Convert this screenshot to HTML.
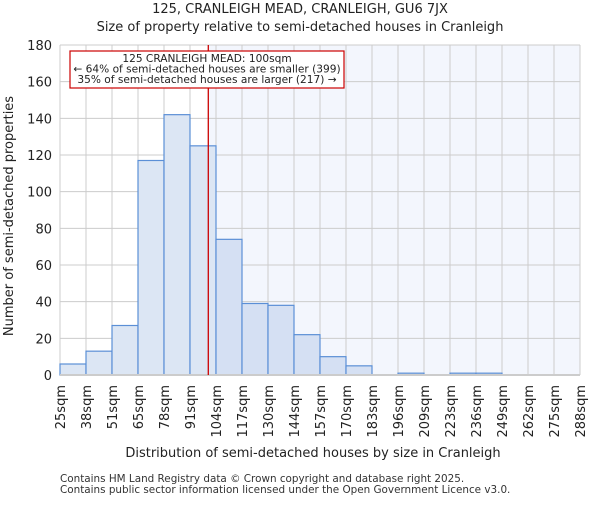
<!DOCTYPE html>
<html><head><meta charset="utf-8"><style>body{margin:0;background:#fff}text{font-family:"DejaVu Sans","Liberation Sans",sans-serif}</style></head>
<body>
<svg id="c" width="600" height="500" xmlns="http://www.w3.org/2000/svg"></svg>
<script>
const edgeLabels=["25sqm","38sqm","51sqm","65sqm","78sqm","91sqm","104sqm","117sqm","130sqm","144sqm","157sqm","170sqm","183sqm","196sqm","209sqm","223sqm","236sqm","249sqm","262sqm","275sqm","288sqm"];
const counts=[6,13,27,117,142,125,74,39,38,22,10,5,0,1,0,1,1,0,0,0];
const yTicks=[0,20,40,60,80,100,120,140,160,180];
const xMin=25,xMax=288,marker=100;
const L=60,R=580,T=45,B=375;
const svg=document.getElementById('c');const NS="http://www.w3.org/2000/svg";
function X(v){return L+(v-xMin)/(xMax-xMin)*(R-L);}
function Y(v){return B-v/180*(B-T);}
function bx(i){return L+i*(R-L)/counts.length;}
function add(t,a,txt){const e=document.createElementNS(NS,t);for(const k in a)e.setAttribute(k,a[k]);if(txt!==undefined)e.textContent=txt;svg.appendChild(e);return e;}
const mx=X(marker);
let e=add('rect',{x:mx,y:T,width:R-mx,height:B-T,fill:'#f3f6fd'});

yTicks.forEach(v=>{e=add('line',{x1:L,x2:R,y1:Y(v),y2:Y(v),stroke:'#cccccc'});

e=add('text',{x:L-8,y:Y(v)+5,'text-anchor':'end','font-size':13,fill:'#222'},v);
});
edgeLabels.forEach((s,i)=>{const x=bx(i);e=add('line',{x1:x,x2:x,y1:T,y2:B,stroke:'#cccccc'});

e=add('text',{x:0,y:0,transform:`translate(${x+5},${B+10}) rotate(-90)`,'text-anchor':'end','font-size':13,fill:'#222'},s);
});
counts.forEach((c,i)=>{if(c<=0)return;const x0=bx(i),x1=bx(i+1);
e=add('rect',{x:x0,y:Y(c),width:x1-x0,height:B-Y(c),fill:x0>=mx?'#d5e0f3':'#dce6f4',stroke:'#5b8fd6','stroke-width':1.2});
});
e=add('line',{x1:L,x2:R,y1:B,y2:B,stroke:'#cccccc','stroke-width':2});

e=add('line',{x1:mx,x2:mx,y1:T,y2:B,stroke:'#cc0000','stroke-width':1.3});

e=add('rect',{x:70,y:51,width:274,height:37,fill:'#fff',stroke:'#cc0000','stroke-width':1.2});

[["125 CRANLEIGH MEAD: 100sqm",62],["← 64% of semi-detached houses are smaller (399)",72.5],["35% of semi-detached houses are larger (217) →",83]].forEach(([t,y])=>{
e=add('text',{x:207,y:y,'text-anchor':'middle','font-size':10.6,fill:'#222'},t);
});
e=add('text',{x:300,y:13,'text-anchor':'middle','font-size':13,fill:'#222'},"125, CRANLEIGH MEAD, CRANLEIGH, GU6 7JX");

e=add('text',{x:300,y:31,'text-anchor':'middle','font-size':13,fill:'#222'},"Size of property relative to semi-detached houses in Cranleigh");

e=add('text',{x:313,y:457,'text-anchor':'middle','font-size':13,fill:'#222'},"Distribution of semi-detached houses by size in Cranleigh");

e=add('text',{x:0,y:0,transform:'translate(13,216) rotate(-90)','text-anchor':'middle','font-size':13,fill:'#222'},"Number of semi-detached properties");

e=add('text',{x:60,y:482,'font-size':10.4,fill:'#333'},"Contains HM Land Registry data © Crown copyright and database right 2025.");

e=add('text',{x:60,y:493,'font-size':10.4,fill:'#333'},"Contains public sector information licensed under the Open Government Licence v3.0.");

</script>
</body></html>
